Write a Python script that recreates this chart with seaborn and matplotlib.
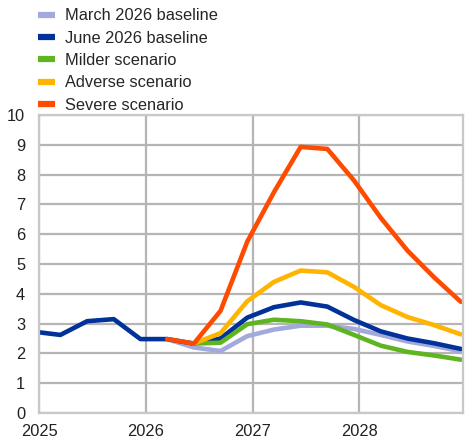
import matplotlib
matplotlib.use("Agg")
import matplotlib.pyplot as plt
import seaborn as sns
import pandas as pd
from matplotlib.lines import Line2D

# ---- data ----
quarters = ["2024Q4", "2025Q1", "2025Q2", "2025Q3", "2025Q4",
            "2026Q1", "2026Q2", "2026Q3", "2026Q4",
            "2027Q1", "2027Q2", "2027Q3", "2027Q4",
            "2028Q1", "2028Q2", "2028Q3", "2028Q4"]

june_baseline = [2.73, 2.62, 3.08, 3.15, 2.48, 2.48, 2.33, 2.50, 3.20,
                 3.55, 3.71, 3.57, 3.12, 2.74, 2.50, 2.34, 2.15]
march_baseline = [2.48, 2.20, 2.08, 2.58, 2.80, 2.93, 2.93, 2.82,
                  2.62, 2.40, 2.25, 2.07]          # from 2026Q1
milder = [2.33, 2.36, 2.98, 3.13, 3.08, 2.97, 2.62, 2.26, 2.05, 1.93, 1.79]   # from 2026Q2
adverse = [2.33, 2.68, 3.75, 4.40, 4.78, 4.72, 4.23, 3.62, 3.22, 2.95, 2.64]  # from 2026Q2
severe = [2.48, 2.33, 3.43, 5.75, 7.41, 8.93, 8.86, 7.80, 6.55, 5.45, 4.55, 3.73]  # from 2026Q1

labels = ["March 2026 baseline", "June 2026 baseline", "Milder scenario",
          "Adverse scenario", "Severe scenario"]
colors = ["#a3a9da", "#003299", "#5fb421", "#ffb400", "#ff4b00"]
year_ticks = [2025, 2026, 2027, 2028]
y_ticks = list(range(0, 11))


def qpos(q):
    y, n = int(q[:4]), int(q[-1])
    return y + n * 0.25 - 0.05


xpos = [qpos(q) for q in quarters]
series = [march_baseline, june_baseline, milder, adverse, severe]

frames = []
for lab, vals in zip(labels, series):
    xs = xpos[len(xpos) - len(vals):]
    frames.append(pd.DataFrame({"x": xs, "y": vals, "series": lab}))
df = pd.concat(frames, ignore_index=True)

# ---- plot ----
sns.set_style("white")
plt.rcParams["font.family"] = ["Liberation Sans", "DejaVu Sans"]

fig = plt.figure(figsize=(4.68, 4.41), dpi=100)
ax = fig.add_axes([39 / 468, 1 - 413 / 441, (463 - 39) / 468, (413 - 115) / 441])

sns.lineplot(data=df, x="x", y="y", hue="series", hue_order=labels,
             palette=dict(zip(labels, colors)), linewidth=3.3, ax=ax,
             sort=False, estimator=None, legend=False)

ax.set_xlim(2025, 2028.97)
ax.set_ylim(0, 10)
ax.set_xticks(year_ticks)
ax.set_xticklabels([str(y) for y in year_ticks])
ax.set_yticks(y_ticks)
ax.set_xlabel("")
ax.set_ylabel("")
ax.grid(True, color="#b5b5b5", linewidth=1.6)
ax.set_axisbelow(True)
for s in ax.spines.values():
    s.set_color("#c8c8c8")
    s.set_linewidth(1.6)
ax.tick_params(axis="both", length=0, labelsize=11.8, colors="#222222")
ax.tick_params(axis="x", pad=8)
ax.tick_params(axis="y", pad=10)

handles = [Line2D([0], [0], color=c, linewidth=4.5, solid_capstyle="butt") for c in colors]
fig.legend(handles, labels, loc="upper left", bbox_to_anchor=(35 / 468, 1 - 5 / 441),
           frameon=False, fontsize=11.8, handlelength=1.05, handletextpad=0.6,
           labelspacing=0.45, borderpad=0.2, borderaxespad=0)

fig.savefig("out.png", dpi=100)
